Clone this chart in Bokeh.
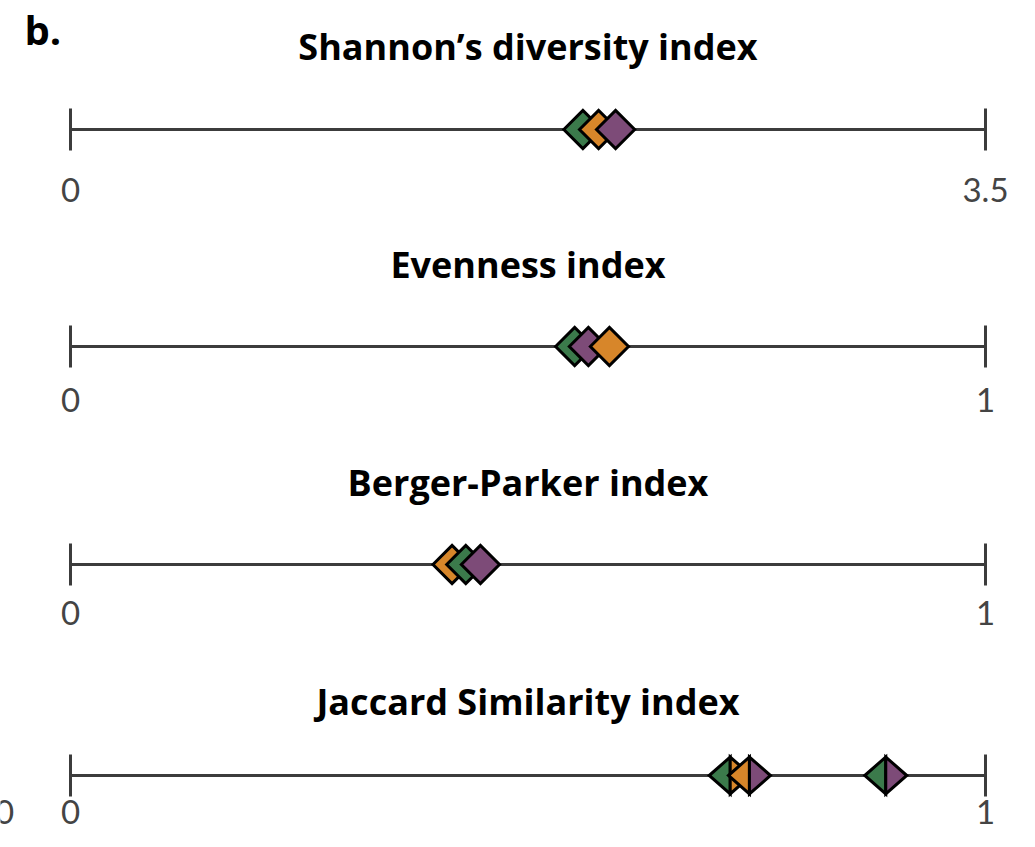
import math
from bokeh.plotting import figure
from bokeh.models import Range1d, ColumnDataSource
from bokeh.core.properties import value
from bokeh.embed import file_html
from bokeh.resources import INLINE

# ---------------- data ----------------
group_names = ["Group 1", "Group 2", "Group 3"]
group_colors = ["#3B7A4B", "#D7862A", "#7D4B78"]   # green, orange, purple

panel_titles = ["Shannon\u2019s diversity index", "Evenness index",
                "Berger-Parker index", "Jaccard Similarity index"]
panel_max = [3.5, 1.0, 1.0, 1.0]
panel_max_labels = ["3.5", "1", "1", "1"]
panel_min_labels = ["0", "0", "0", "0"]

shannon_values = [1.96, 2.02, 2.085]    # Group 1, 2, 3
evenness_values = [0.551, 0.589, 0.566]
berger_values = [0.432, 0.417, 0.448]

# Jaccard: pairwise similarity between groups (left half colour, right half colour)
jaccard_pair_left = [0, 1, 0]
jaccard_pair_right = [1, 2, 2]
jaccard_values = [0.721, 0.742, 0.891]

# ---------------- layout (pixel space) ----------------
W, H = 1019, 831
X0, X1 = 70, 985
span = X1 - X0
axis_y = [129, 346, 564, 775]
title_y = [46, 264, 482, 701]
label_y = [189, 399, 612, 811]

p = figure(width=W, height=H, output_backend="svg", toolbar_location=None,
           x_range=Range1d(-X0 / span, (W - X0) / span),
           y_range=Range1d(H, 0), min_border=0)
p.axis.visible = False
p.grid.visible = False
p.outline_line_color = None
p.background_fill_color = "white"

line_col = "#3c3c3c"
p.segment(x0=[0] * 4, x1=[1] * 4, y0=axis_y, y1=axis_y, line_color=line_col, line_width=3)
p.segment(x0=[0] * 4 + [1] * 4, x1=[0] * 4 + [1] * 4,
          y0=[y - 21 for y in axis_y] * 2, y1=[y + 21 for y in axis_y] * 2,
          line_color=line_col, line_width=3)

p.text(x=[0.5] * 4, y=title_y, text=panel_titles, text_align="center",
       text_baseline="alphabetic", text_font=value("Open Sans"), text_font_style="bold",
       text_font_size="36px", text_color="black")
p.text(x=[(24 - X0) / span], y=[29], text=["b."], text_align="left",
       text_baseline="alphabetic", text_font=value("Open Sans"), text_font_style="bold",
       text_font_size="40px", text_color="black")
p.text(x=[0] * 4 + [1] * 4, y=label_y * 2, text=panel_min_labels + panel_max_labels,
       text_align="center", text_baseline="alphabetic", text_font=value("Lato"),
       text_font_size="33px", text_color="#444444")
p.text(x=[(4 - X0) / span], y=[label_y[3]], text=["0"], text_align="center",
       text_baseline="alphabetic", text_font=value("Lato"),
       text_font_size="33px", text_color="#444444")

for k, vals in enumerate([shannon_values, evenness_values, berger_values]):
    order = sorted(range(len(vals)), key=lambda i: vals[i])
    src = ColumnDataSource(dict(
        x=[vals[i] / panel_max[k] for i in order],
        y=[axis_y[k]] * len(order),
        c=[group_colors[i] for i in order],
        g=[group_names[i] for i in order]))
    p.scatter(x="x", y="y", source=src, marker="square", size=27, angle=math.pi / 4,
              fill_color="c", line_color="black", line_width=3, line_join="miter")

hw = 21.0 / span
hh = 18.5
yj = axis_y[3]
xs, ys, cols = [], [], []
for v, li, ri in zip(jaccard_values, jaccard_pair_left, jaccard_pair_right):
    u = v / panel_max[3]
    xs.append([u - hw, u, u]); ys.append([yj, yj - hh, yj + hh]); cols.append(group_colors[li])
    xs.append([u + hw, u, u]); ys.append([yj, yj - hh, yj + hh]); cols.append(group_colors[ri])
p.patches(xs=xs, ys=ys, fill_color=cols, line_color="black", line_width=3, line_join="miter")

open("out.html", "w").write(file_html(p, INLINE))
